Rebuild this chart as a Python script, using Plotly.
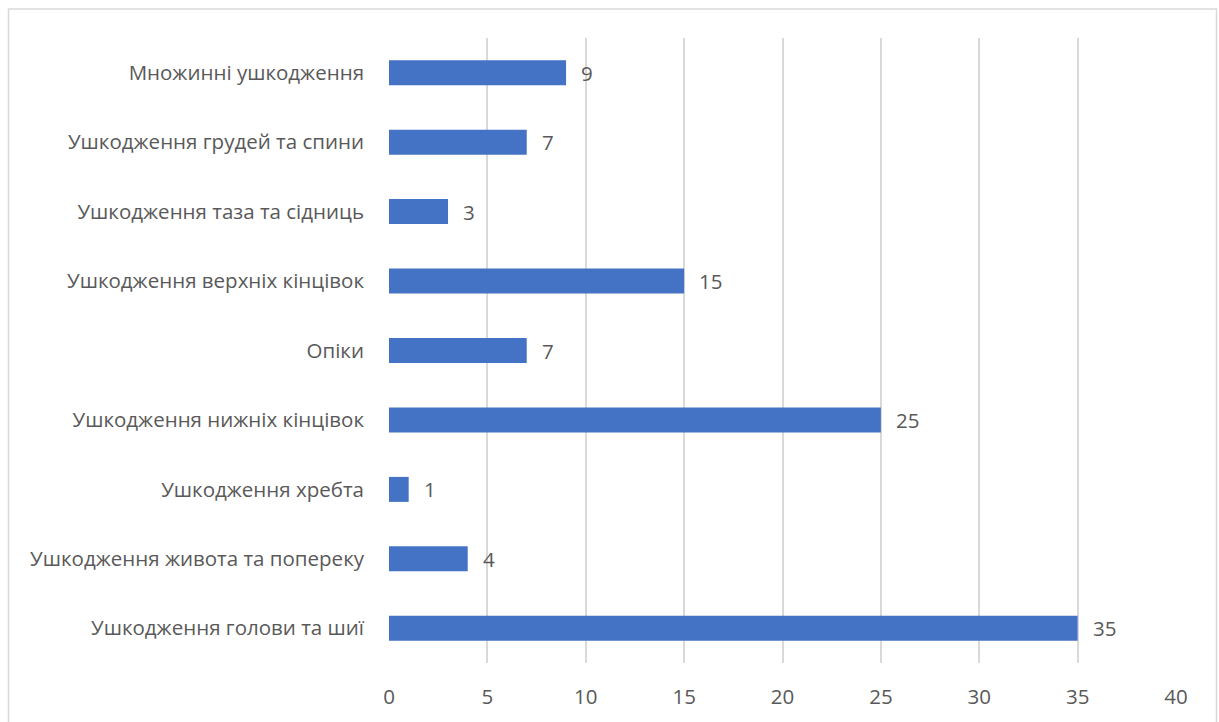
import plotly.graph_objects as go

categories = [
    "Ушкодження голови та шиї",
    "Ушкодження живота та попереку",
    "Ушкодження хребта",
    "Ушкодження нижніх кінцівок",
    "Опіки",
    "Ушкодження верхніх кінцівок",
    "Ушкодження таза та сідниць",
    "Ушкодження грудей та спини",
    "Множинні ушкодження",
]
values = [35, 4, 1, 25, 7, 15, 3, 7, 9]
x_ticks = [0, 5, 10, 15, 20, 25, 30, 35, 40]

W, H = 1219, 722
L, R, T, B = 389, 43, 38, 57
pw, ph = W - L - R, H - T - B

FONT = "Open Sans"
FS = 20.5
GRAY = "#595959"

fig = go.Figure()
fig.add_trace(go.Bar(
    y=categories, x=values, orientation="h",
    marker=dict(color="#4472C4", line=dict(width=0)),
    width=0.36,
    hoverinfo="skip",
))
for c, v in zip(categories, values):
    fig.add_annotation(x=v, y=c, text=str(v), showarrow=False,
                       xanchor="left", xshift=13,
                       font=dict(family=FONT, size=FS, color=GRAY))

def px_x(p):
    return (p - L) / pw

def px_y(p):
    return (H - B - p) / ph

fig.add_shape(type="rect", xref="paper", yref="paper",
              x0=px_x(8.5), x1=px_x(1216.5), y0=px_y(730), y1=px_y(9),
              line=dict(color="#D9D9D9", width=1.5), fillcolor="rgba(0,0,0,0)",
              layer="below")

fig.update_layout(
    width=W, height=H,
    margin=dict(l=L, r=R, t=T, b=B, pad=0),
    paper_bgcolor="white", plot_bgcolor="white",
    showlegend=False,
    font=dict(family=FONT, size=FS, color=GRAY),
    xaxis=dict(range=[0, 40], tickvals=x_ticks, showgrid=True,
               gridcolor="#D9D9D9", gridwidth=1.5, zeroline=False,
               showline=False, ticks="", ticklabelstandoff=19,
               tickfont=dict(family=FONT, size=FS, color=GRAY), fixedrange=True),
    yaxis=dict(categoryorder="array", categoryarray=categories,
               showgrid=False, zeroline=False, showline=False, ticks="",
               ticklabelstandoff=24,
               tickfont=dict(family=FONT, size=FS, color=GRAY), fixedrange=True),
)

fig.write_html("out.html")
